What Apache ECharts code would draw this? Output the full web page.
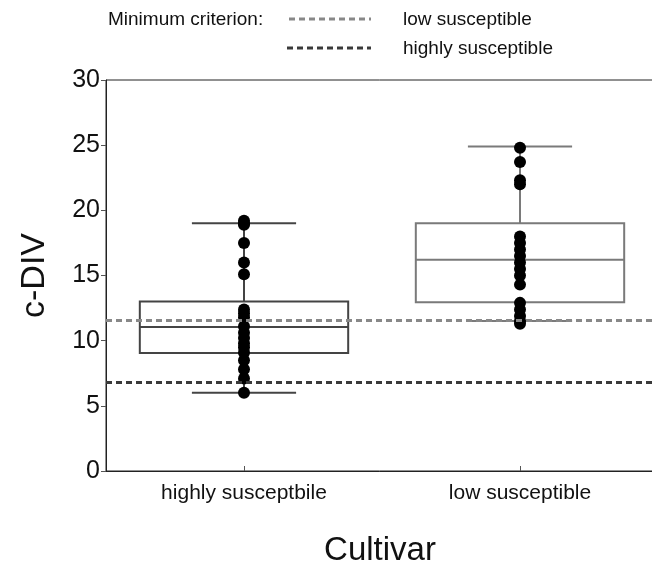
<!DOCTYPE html>
<html><head><meta charset="utf-8">
<script src="https://cdn.jsdelivr.net/npm/echarts@6/dist/echarts.min.js"></script>
<style>html,body{margin:0;padding:0;background:#fff}#c{width:652px;height:567px}</style>
</head><body><div id="c"></div>
<script>
const categories = ['highly susceptbile', 'low susceptible'];
const yTicks = [0, 5, 10, 15, 20, 25, 30];
// [low whisker, Q1, median, Q3, high whisker]
const boxHigh = [6.0, 9.05, 11.05, 13.0, 19.0];
const boxLow = [11.5, 12.95, 16.2, 19.0, 24.9];
const pointsHigh = [19.2, 19.0, 18.9, 17.5, 16.0, 15.1, 12.4, 12.1, 11.8, 11.1, 10.6, 10.2, 9.8, 9.5, 9.1, 8.5, 7.8, 7.1, 6.0];
const pointsLow = [24.8, 23.7, 22.3, 22.0, 18.0, 17.5, 17.0, 16.5, 16.0, 15.5, 15.0, 14.3, 12.9, 12.4, 11.9, 11.5, 11.3];
const criterionLow = 11.6;
const criterionHigh = 6.8;
const boxColors = ['#444444', '#7a7a7a'];

const chart = echarts.init(document.getElementById('c'));
const boxData = [[0].concat(boxHigh), [1].concat(boxLow)];
const scatterData = pointsHigh.map(v => [0, v]).concat(pointsLow.map(v => [1, v]));

function renderBox(params, api) {
  const cat = api.value(0);
  const lo = api.coord([cat, api.value(1)]);
  const q1 = api.coord([cat, api.value(2)]);
  const md = api.coord([cat, api.value(3)]);
  const q3 = api.coord([cat, api.value(4)]);
  const hi = api.coord([cat, api.value(5)]);
  const band = api.size([1, 0])[0];
  const bw = band * 0.755, cw = bw / 2;
  const x = md[0];
  const color = boxColors[params.dataIndex];
  const st = {stroke: color, lineWidth: 2, fill: 'none'};
  return {type: 'group', children: [
    {type: 'line', shape: {x1: x, y1: q3[1], x2: x, y2: hi[1]}, style: st},
    {type: 'line', shape: {x1: x, y1: q1[1], x2: x, y2: lo[1]}, style: st},
    {type: 'line', shape: {x1: x - cw / 2, y1: hi[1], x2: x + cw / 2, y2: hi[1]}, style: st},
    {type: 'line', shape: {x1: x - cw / 2, y1: lo[1], x2: x + cw / 2, y2: lo[1]}, style: st},
    {type: 'rect', shape: {x: x - bw / 2, y: q3[1], width: bw, height: q1[1] - q3[1]}, style: st},
    {type: 'line', shape: {x1: x - bw / 2, y1: md[1], x2: x + bw / 2, y2: md[1]}, style: st}
  ]};
}

const font = 'Liberation Sans, Arial, Helvetica, sans-serif';
chart.setOption({
  animation: false,
  textStyle: {fontFamily: font},
  grid: {left: 106, top: 80, width: 552, bottom: 96, outerBoundsMode: 'none', containLabel: false,
    show: true, borderColor: '#222', borderWidth: 1, backgroundColor: 'transparent'},
  xAxis: {
    type: 'category', data: categories,
    name: 'Cultivar', nameLocation: 'middle', nameGap: 63,
    nameTextStyle: {fontSize: 33, color: '#111', fontFamily: font, padding: [0, 0, 0, -4]},
    axisLine: {lineStyle: {color: '#222', width: 1}},
    axisTick: {show: true, inside: true, alignWithLabel: true, length: 5, lineStyle: {color: '#555'}},
    axisLabel: {fontSize: 21, color: '#111', margin: 12, fontFamily: font}
  },
  yAxis: {
    type: 'value', min: 0, max: 30, interval: 5,
    name: 'c-DIV', nameLocation: 'middle', nameGap: 54,
    nameTextStyle: {fontSize: 34, color: '#111', fontFamily: font},
    axisLine: {show: true, lineStyle: {color: '#222', width: 1}},
    axisTick: {show: true, length: 5, lineStyle: {color: '#555'}},
    axisLabel: {fontSize: 25, color: '#111', margin: 6, fontFamily: font,
      formatter: v => yTicks.includes(v) ? String(v) : ''},
    splitLine: {show: false}
  },
  series: [
    {type: 'custom', renderItem: renderBox, data: boxData, encode: {x: 0, y: [1, 2, 3, 4, 5]}, z: 2},
    {type: 'scatter', data: scatterData, symbolSize: 12, itemStyle: {color: '#000', opacity: 1}, z: 3,
      markLine: {silent: true, symbol: 'none', label: {show: false}, z: 4,
        data: [
          {yAxis: criterionLow, lineStyle: {color: '#888', width: 3, type: [6, 4]}},
          {yAxis: criterionHigh, lineStyle: {color: '#3a3a3a', width: 3, type: [6, 4]}}
        ]}
    }
  ],
  graphic: [
    {type: 'text', x: 108, y: 20, style: {text: 'Minimum criterion:', fontSize: 19, fill: '#111', fontFamily: font, verticalAlign: 'middle'}},
    {type: 'line', shape: {x1: 289, y1: 19, x2: 371, y2: 19}, style: {stroke: '#888', lineWidth: 3, lineDash: [6, 4]}},
    {type: 'text', x: 403, y: 20, style: {text: 'low susceptible', fontSize: 19, fill: '#111', fontFamily: font, verticalAlign: 'middle'}},
    {type: 'line', shape: {x1: 287, y1: 48, x2: 371, y2: 48}, style: {stroke: '#3a3a3a', lineWidth: 3, lineDash: [6, 4]}},
    {type: 'text', x: 403, y: 49, style: {text: 'highly susceptible', fontSize: 19, fill: '#111', fontFamily: font, verticalAlign: 'middle'}}
  ]
});
</script></body></html>
